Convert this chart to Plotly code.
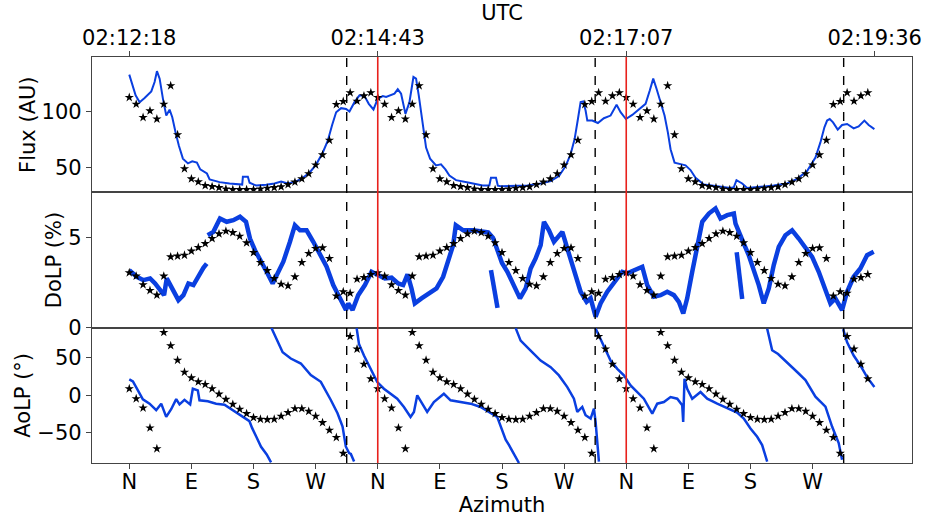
import plotly.graph_objects as go
from plotly.subplots import make_subplots

# ---------------- data (azimuth in degrees, cumulative over rotations) ----------------
# model (stars) sampled every 10 deg over one rotation, repeated for each rotation
model_az = [0, 10, 20, 30, 40, 50, 60, 70, 80, 90, 100, 110, 120, 130, 140, 150, 160, 170,
            180, 190, 200, 210, 220, 230, 240, 250, 260, 270, 280, 290, 300, 310, 320, 330, 340, 350]
rotation_starts = [0, 360, 720]
model_flux = [113, 107, 95, 101, 93.6, 107, 123.6, 79.4, 48.8, 39.7, 37, 33.6, 32.7, 31.8, 30.6, 30,
              30, 30, 30, 30.6, 31.2, 31.8, 32.5, 34.5, 36.7, 39.7, 44.3, 52.2, 61.3, 74.5,
              106.7, 109.4, 117.3, 109.7, 114.5, 117.3]
model_dolp = [3.06, 2.87, 2.39, 2.07, 1.81, 2.87, 3.94, 3.98, 4.03, 4.26, 4.46, 4.68, 4.96, 5.22,
              5.37, 5.29, 5.09, 4.72, 4.18, 3.63, 3.18, 2.74, 2.42, 2.33, 2.83, 3.63, 4.13, 4.41,
              4.44, 3.85, 1.76, 2.0, 1.92, 2.7, 2.79, 2.96]
model_aolp = [8.8, -4.5, -16.8, -43.3, -71, 83.7, 66.1, 46.7, 30.8, 23.3, 18, 14.5, 8.8, 1.7, -5.3,
              -11.9, -18.5, -24.3, -29.6, -31.7, -32.2, -31.7, -27.8, -23, -17.7, -17.7, -21.2,
              -27.8, -36.2, -46.3, -56, -77.2, 78.4, 61.6, 41.4, 22]

# measured flux
flux_az = [0, 4.4, 9.2, 15, 22.2, 31.9, 36.7, 40.1, 44, 48.8, 53.6, 58.4, 62.3, 67.1, 71.9, 77.7, 85,
           91.2, 98, 102.8, 112.5, 116.4, 130.9, 145.3, 159.8, 163.6, 164.6, 171.8, 174.3, 183.9,
           198.3, 210.4, 220, 229.7, 241.8, 251.5, 261.1, 270.7, 280.4, 287.6, 293.9, 299.7, 306.9,
           314.1, 319, 326.3, 333.5, 340.8, 347, 353.8, 360, 367.3, 372.1, 379.3, 384.2, 389, 393.8,
           400.1, 405.9, 411.7, 415.5, 419.4, 422.7, 426.2, 430, 435.8, 444.4, 451.6, 458, 463.8,
           473.4, 492.7, 512, 521.7, 524, 531.3, 534, 538, 557.3, 576.7, 596, 610.5, 622.5, 632.2,
           639.4, 645.2, 650, 653.9, 657.8, 661.1, 663.6, 670.8, 678.9, 687.6, 697.3, 706, 711.8,
           719.5, 728.7, 738.3, 748, 754.2, 759.1, 763.9, 769.7, 775.5, 780.3, 784.2, 790, 798.6,
           805.9, 813.1, 820.4, 832.4, 851.8, 871, 875.8, 879.7, 888, 895.2, 914.5, 933.7, 953,
           967.6, 982, 994.1, 1001.3, 1007.1, 1011, 1014.8, 1019.6, 1026.4, 1032.7, 1040, 1049.5,
           1056.7, 1065, 1071.2, 1079.5]
flux_val = [133.6, 125.5, 114.9, 108.8, 112.5, 118.5, 127, 136.7, 130, 111.8, 96.7, 102, 95.2, 81.5,
            69.4, 57.9, 53.6, 55.5, 54.3, 48.2, 44.5, 39.1, 36.7, 35.5, 34.5, 34.5, 41.5, 41.5, 36.1,
            33.6, 34.3, 35.5, 37.3, 35.5, 37.3, 40.6, 45.2, 52.5, 63.4, 74, 88.2, 99.7, 103.4, 102.7,
            100.4, 108.8, 114.9, 114.3, 107.3, 102.2, 111.8, 114.3, 113.4, 115.5, 116.4, 120.4, 116.4,
            98.2, 108.8, 131.5, 130, 114.9, 99.7, 81.5, 67.9, 57.9, 51.8, 52.7, 48.2, 42.7, 38.5,
            36.1, 33.6, 33.6, 40.6, 40.6, 33.5, 33, 33.6, 33.6, 35.5, 37.6, 42.2, 51.3, 61.8, 75.5,
            93.6, 108.8, 109.4, 101.3, 92.2, 92.2, 90, 94.3, 96.7, 106.4, 99.7, 93.6, 97.3, 102.2,
            107.3, 119.5, 130, 120.9, 108.8, 96.7, 81.5, 66.4, 54.3, 52.7, 51.8, 47.6, 40.6, 34.5,
            33.1, 31.5, 32, 38.5, 35.5, 31.5, 32.5, 33.6, 35.5, 39.7, 46.7, 58.8, 72.5, 86.1, 92.2,
            93.6, 90.6, 84, 88.2, 89.1, 85.2, 87, 92.2, 88.2, 84.5]

# measured DoLP (None = gap)
dolp_az = [0, 10.9, 20.5, 30.2, 37.4, 44.6, 50.4, 54.3, 61.5, 71.2, 78.4, 85.7, 92.9, 100.1, 107.4,
           112.2, None,
           113.6, 121.8, 131.4, 141.1, 150.7, 160.4, 169.1, 174.9, 182.1, 191.8, 199, 207.7, 213.5,
           223.2, 232.8, 240, 247.3, 256.9, 266.6, 276.2, 285.9, 295.5, 305.2, 313.9, 317.3, 323.5,
           331.7, 341.4, 351, 360.7, 370.3, 380, 389.6, 396.8, 403.1, 408.9, 413.7, 423.4, 435.4,
           445.1, 454.7, 462, 469.2, 473.1, 483.7, 498.2, 512.7, 520, 527, 533, 540, 547.8, 557.4,
           566, 574.3, 581.5, 588.7, 596, 600.8, 608, 615.3, 622.5, 627.4, 634.6, 644.2, 653.9,
           662.6, 668.4, 675.6, 682.8, 692.5, 704.5, 714.2, 721.4, 731, 743.2, 750.4, 760, 769.7,
           779.4, 789, 796.2, 802.6, 808.3, 815.6, 822.8, 830.1, 839.7, 849.3, 856.5, 866.3, 875.9,
           878.3, 890.3, 897.5, 904.7, 912, 919.2, 926.5, 933.7, 941, 950.6, 960.3, 969.9, 979.6,
           989.3, 998.9, 1008.6, 1015.8, 1023, 1032.7, 1040, 1049.5, 1059.2, 1068.9, 1078.5, None,
           524, 527, 530, 533.5, None,
           880, 883, 886, 888]
dolp_val = [3.2, 2.83, 2.64, 2.74, 2.46, 2.09, 1.81, 2.74, 2.18, 1.53, 1.81, 2.46, 2.37, 2.89, 3.33,
            3.57, None,
            5.14, 5.33, 6.07, 5.89, 5.98, 6.17, 5.89, 4.96, 4.31, 3.67, 3.11, 2.46, 2.92, 3.67, 4.78,
            5.7, 5.42, 5.42, 4.78, 4.13, 3.39, 2.37, 1.63, 0.98, 1.35, 0.98, 1.81, 2.37, 3.11, 2.89,
            2.74, 2.78, 2.46, 2.37, 2.96, 2.18, 1.35, 1.63, 1.9, 2.18, 2.83, 3.76, 4.59, 5.7, 5.42,
            5.42, 5.33, 5.3, 5.0, 4.4, 3.6, 3.11, 2.37, 1.63, 2.18, 3.29, 3.85, 4.59, 5.89, 5.42,
            4.78, 5.14, 5.33, 4.41, 3.11, 2.0, 1.44, 1.63, 0.61, 1.35, 2.0, 2.64, 3.11, 3.02, 3.2,
            3.39, 2.37, 1.72, 1.81, 2.0, 1.81, 1.44, 0.79, 1.63, 3.11, 4.41, 5.89, 6.35, 6.63, 6.07,
            6.26, 6.35, 5.79, 4.68, 4.03, 3.2, 2.37, 1.35, 2.18, 3.48, 4.5, 5.14, 5.42, 4.96, 4.41,
            3.94, 3.11, 2.0, 1.35, 1.63, 0.98, 2.0, 2.83, 3.29, 4.03, 4.22, None,
            3.2, 2.6, 2.0, 1.1, None,
            4.2, 3.2, 2.3, 1.6]

# measured AoLP (wraps at +/-90; None = wrap)
aolp_az = [0, 5.3, 12.5, 19.7, 29.4, 39, 46.3, 53.5, 60.7, 68, 72.8, 80, 88.2, 92.1, 99.3, 101.7,
           113.8, 125.8, 137.9, 145.1, 154.8, 164.4, 174.1, 177.9, 183.7, 190.9, 199.1, 205.4, None,
           206, 214.8, 222.2, 234, 248.6, 263, 277.5, 292, 301.7, 309, 313.7, 318.5, 321, 325.7, None,
           329.4, 332.8, 340, 349.6, 359.3, 368.9, 378.6, 388.2, 397.9, 407.5, 412.4, 417.2, 424.4,
           431.6, 441.3, 451, 455.8, 465.5, 479.9, 494.4, 508.9, 523.3, 533, 545.3, 550, 564.6, None,
           559.8, 567, 581.5, 596, 610.5, 622.5, 634.6, 644.2, 649.1, 656.3, 661.1, 668.4, 673.2,
           675.6, 680.4, None,
           675.6, 680.4, 687.6, 697.3, 707, 716.6, 726.3, 735.9, 745.5, 757.7, 764.9, 774.5, 784.2,
           793.9, 801.1, 802.5, 804.4, 808.3, 815.6, 827.6, 837.3, 851.8, 866.3, 880.7, 890.3, 900,
           909.7, 916.9, 924.2, None,
           924.2, 931.4, 940, 955.4, 967.6, 979.6, 994.1, 1008.6, 1018.2, 1027.8, 1032.7, None,
           1034.2, 1040, 1049.5, 1059.2, 1068.9, 1079.5]
aolp_val = [21.2, 18.5, 6.6, -5.3, -11.1, -19.8, -11.1, -28.7, -18.5, -5, -12, -6, -12, 8.8, 6.6,
            -6.6, -7.9, -11.1, -12.4, -16.8, -22.1, -28.7, -34.4, -43.3, -55.2, -68.4, -78.6, -89.2,
            None,
            89.5, 73, 57.3, 49, 42.3, 26.9, 18, -6.2, -23.8, -41.5, -68, -76.7, -78, -88, None,
            89.4, 68.3, 52.9, 35.2, 17.6, 8.8, 2.1, -4.5, -15.5, -28.7, -22.1, 0, -11.1, -22.1, -8.9,
            -2.2, 2.1, -6.6, -8.9, -11.1, -15.5, -23, -28.7, -59, -66, -90, None,
            89.4, 72.8, 59.5, 46.3, 37.4, 26.5, 11, -4.5, -22.1, -15.5, -26.5, -30.9, -17.7, -35.3,
            -88.2, None,
            89, 79.4, 63.9, 46.3, 35.2, 26.5, 13.2, 4.4, -4.5, -24.3, -11.1, -8.9, -2.2, -4.5, -13.2,
            -35.3, 22, 8.8, -4.5, 4.4, -4.5, -11.1, -16.8, -23, -30.9, -44.1, -55.2, -66.1, -88.2,
            None,
            88.6, 60, 55, 42.3, 31, 20.2, -1.8, -15, -41.5, -63.5, -85.6, None,
            88.1, 70.5, 52.9, 39.7, 24.2, 11]

dashed_az = [315, 675, 1035]
red_az = [360, 720]

utc_ticks = [0, 360, 720, 1080]
utc_labels = ["02:12:18", "02:14:43", "02:17:07", "02:19:36"]
az_ticks = [0, 90, 180, 270, 360, 450, 540, 630, 720, 810, 900, 990]
az_labels = ["N", "E", "S", "W", "N", "E", "S", "W", "N", "E", "S", "W"]

# ---------------- figure ----------------
BLUE = "#0a3fe0"
FONT = dict(family="DejaVu Sans", size=21, color="black")
AXCOL = "#444444"

fig = make_subplots(rows=3, cols=1, shared_xaxes=True, vertical_spacing=0)

star_x = [a + s for s in rotation_starts for a in model_az]


def stars(vals):
    return go.Scatter(x=star_x, y=[v for s in rotation_starts for v in vals], mode="markers",
                      marker=dict(symbol="star", size=7, color="black", line=dict(width=0)),
                      showlegend=False, hoverinfo="skip")


fig.add_trace(go.Scatter(x=flux_az, y=flux_val, mode="lines", line=dict(color=BLUE, width=2),
                         showlegend=False), row=1, col=1)
fig.add_trace(stars(model_flux), row=1, col=1)
fig.add_trace(go.Scatter(x=dolp_az, y=dolp_val, mode="lines", connectgaps=False,
                         line=dict(color=BLUE, width=4.5), showlegend=False), row=2, col=1)
fig.add_trace(stars(model_dolp), row=2, col=1)
fig.add_trace(go.Scatter(x=aolp_az, y=aolp_val, mode="lines", connectgaps=False,
                         line=dict(color=BLUE, width=2.5), showlegend=False), row=3, col=1)
fig.add_trace(stars(model_aolp), row=3, col=1)

for a in dashed_az:
    fig.add_shape(type="line", xref="x", yref="paper", x0=a, x1=a, y0=0, y1=1,
                  line=dict(color="black", width=1.4, dash="dash"), layer="above")
for a in red_az:
    fig.add_shape(type="line", xref="x", yref="paper", x0=a, x1=a, y0=0, y1=1,
                  line=dict(color="#e8211c", width=1.6), layer="above")

xcommon = dict(range=[-54, 1134], showgrid=False, zeroline=False, showline=True, linecolor=AXCOL,
               linewidth=1.3, mirror=True, tickfont=FONT, tickcolor=AXCOL, ticklen=5,
               automargin=False)
fig.update_xaxes(**xcommon)
fig.update_layout(
    xaxis=dict(side="top", ticks="outside", tickvals=utc_ticks, ticktext=utc_labels,
               showticklabels=True, ticklabelstandoff=-3,
               title=dict(text="UTC", font=FONT, standoff=0)),
    xaxis2=dict(ticks="", showticklabels=False),
    xaxis3=dict(ticks="outside", tickvals=az_ticks, ticktext=az_labels, showticklabels=True,
                ticklabelstandoff=-5, title=dict(text="Azimuth", font=FONT, standoff=5)),
)

ycommon = dict(showgrid=False, zeroline=False, showline=True, linecolor=AXCOL, linewidth=1.3,
               mirror=True, ticks="outside", ticklen=5, tickcolor=AXCOL, tickfont=FONT,
               automargin=False)
fig.update_yaxes(**ycommon)
fig.update_layout(
    yaxis=dict(range=[27.5, 149.5], tickvals=[50, 100],
               title=dict(text="Flux (AU)", font=FONT, standoff=0)),
    yaxis2=dict(range=[-0.0001, 7.53], tickvals=[0, 5],
                title=dict(text="DoLP (%)", font=FONT, standoff=0)),
    yaxis3=dict(range=[-90, 90], tickvals=[-50, 0, 50],
                title=dict(text="AoLP (°)", font=FONT, standoff=0)),
)

fig.update_layout(width=925, height=517, margin=dict(l=92, r=13, t=57, b=54, autoexpand=False),
                  paper_bgcolor="white", plot_bgcolor="white", font=FONT, showlegend=False)

fig.write_html("out.html", config={"displayModeBar": False},
               post_script="document.body.style.margin='0';document.body.style.overflow='hidden';")
